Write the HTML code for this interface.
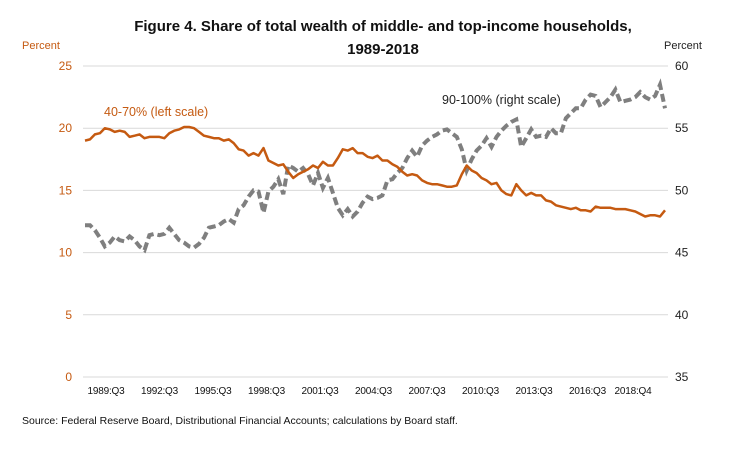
<!DOCTYPE html>
<html><head><meta charset="utf-8"><style>
body{margin:0;background:#fff;}
svg{display:block;font-family:"Liberation Sans",sans-serif;}
</style></head><body>
<svg id="chart" width="748" height="449" viewBox="0 0 748 449">
<text x="383" y="31" text-anchor="middle" font-size="15" font-weight="bold" fill="#111">Figure 4.  Share of total wealth of middle- and top-income households,</text>
<text x="383" y="54" text-anchor="middle" font-size="15" font-weight="bold" fill="#111">1989-2018</text>
<text x="22" y="49" font-size="11" fill="#c55a11">Percent</text>
<text x="664" y="49" font-size="11" fill="#222">Percent</text>
<g id="grid"></g><g id="ticks"></g><g id="series"></g>
<text x="104" y="116" font-size="12.5" fill="#c55a11">40-70% (left scale)</text>
<text x="442" y="104" font-size="12.5" fill="#222">90-100% (right scale)</text>
<text x="22" y="424" font-size="10.5" fill="#111">Source:  Federal Reserve Board, Distributional Financial Accounts; calculations by Board staff.</text>
</svg>
<script>
const leftTicks=[0,5,10,15,20,25];
const rightTicks=[35,40,45,50,55,60];
const xLabels=["1989:Q3","1992:Q3","1995:Q3","1998:Q3","2001:Q3","2004:Q3","2007:Q3","2010:Q3","2013:Q3","2016:Q3","2018:Q4"];
const middle4070=[19.0,19.1,19.5,19.6,20.0,19.9,19.7,19.8,19.7,19.3,19.4,19.5,19.2,19.3,19.3,19.3,19.2,19.6,19.8,19.9,20.1,20.1,20.0,19.7,19.4,19.3,19.2,19.2,19.0,19.1,18.8,18.3,18.2,17.8,18.0,17.8,18.4,17.4,17.2,17.0,17.1,16.5,16.0,16.3,16.5,16.7,17.0,16.8,17.3,17.0,17.0,17.6,18.3,18.2,18.4,18.0,18.0,17.7,17.6,17.8,17.4,17.4,17.1,16.9,16.5,16.2,16.3,16.2,15.8,15.6,15.5,15.5,15.4,15.3,15.3,15.4,16.3,17.0,16.6,16.4,16.0,15.8,15.5,15.6,15.0,14.7,14.6,15.5,15.0,14.6,14.8,14.6,14.6,14.2,14.1,13.8,13.7,13.6,13.5,13.6,13.4,13.4,13.3,13.7,13.6,13.6,13.6,13.5,13.5,13.5,13.4,13.3,13.1,12.9,13.0,13.0,12.9,13.4];
const top90100=[47.2,47.2,46.8,46.2,45.5,45.8,46.3,46.0,45.9,46.3,46.0,45.5,45.2,46.4,46.5,46.4,46.5,47.0,46.5,46.0,45.8,45.5,45.4,45.7,46.2,47.0,47.1,47.2,47.5,47.7,47.4,48.5,48.8,49.5,50.0,49.9,48.2,49.9,50.3,50.9,49.7,52.0,51.8,51.5,51.8,51.3,50.4,51.4,50.2,51.0,49.8,48.6,48.0,48.5,47.9,48.3,49.0,49.5,49.3,49.4,49.6,50.8,50.9,51.4,51.8,52.6,53.2,52.7,53.6,54.0,54.3,54.5,54.8,54.9,54.6,54.3,53.3,51.6,52.5,53.2,53.6,54.2,53.5,54.3,54.8,55.2,55.5,55.7,53.5,54.2,54.9,54.3,54.4,54.3,55.0,54.6,54.6,55.8,56.2,56.6,56.6,57.3,57.7,57.6,56.7,57.1,57.5,58.1,57.1,57.2,57.3,57.5,57.9,57.5,57.3,57.6,58.5,56.6];

const X0=85,X1=665,YT=66,YB=377;
const n=middle4070.length;
const x=i=>X0+(X1-X0)*i/(n-1);
const yL=v=>YB-(YB-YT)*v/25;
const yR=v=>YB-(YB-YT)*(v-35)/25;
const labelX=i=>i===xLabels.length-1?633:106+i*53.5;
const NS="http://www.w3.org/2000/svg";
function mk(tag,attrs,parent){const e=document.createElementNS(NS,tag);for(const k in attrs)e.setAttribute(k,attrs[k]);document.getElementById(parent).appendChild(e);return e;}

leftTicks.forEach((t,i)=>{
  const g=mk('line',{x1:83,x2:668,y1:yL(t),y2:yL(t),stroke:'#d9d9d9','stroke-width':1},'grid');
  
  
  const lt=mk('text',{x:72,y:yL(t)+4,'text-anchor':'end','font-size':12,fill:'#c55a11'},'ticks');
  lt.textContent=t;
  
  
});
rightTicks.forEach(t=>{
  const rt=mk('text',{x:675,y:yR(t)+4,'font-size':12,fill:'#222'},'ticks');
  rt.textContent=t;
  
  
});
xLabels.forEach((l,i)=>{
  const xt=mk('text',{x:labelX(i),y:394,'text-anchor':'middle','font-size':10,'letter-spacing':'-0.2',fill:'#111'},'ticks');
  xt.textContent=l;
  
  
});
const gp=mk('path',{d:top90100.map((v,i)=>(i?'L':'M')+x(i).toFixed(1)+','+yR(v).toFixed(1)).join(''),fill:'none',stroke:'#7f7f7f','stroke-width':4,'stroke-dasharray':'8,4'},'series');


const op=mk('path',{d:middle4070.map((v,i)=>(i?'L':'M')+x(i).toFixed(1)+','+yL(v).toFixed(1)).join(''),fill:'none',stroke:'#c55a11','stroke-width':2.5,'stroke-linejoin':'round'},'series');


</script>
</body></html>
